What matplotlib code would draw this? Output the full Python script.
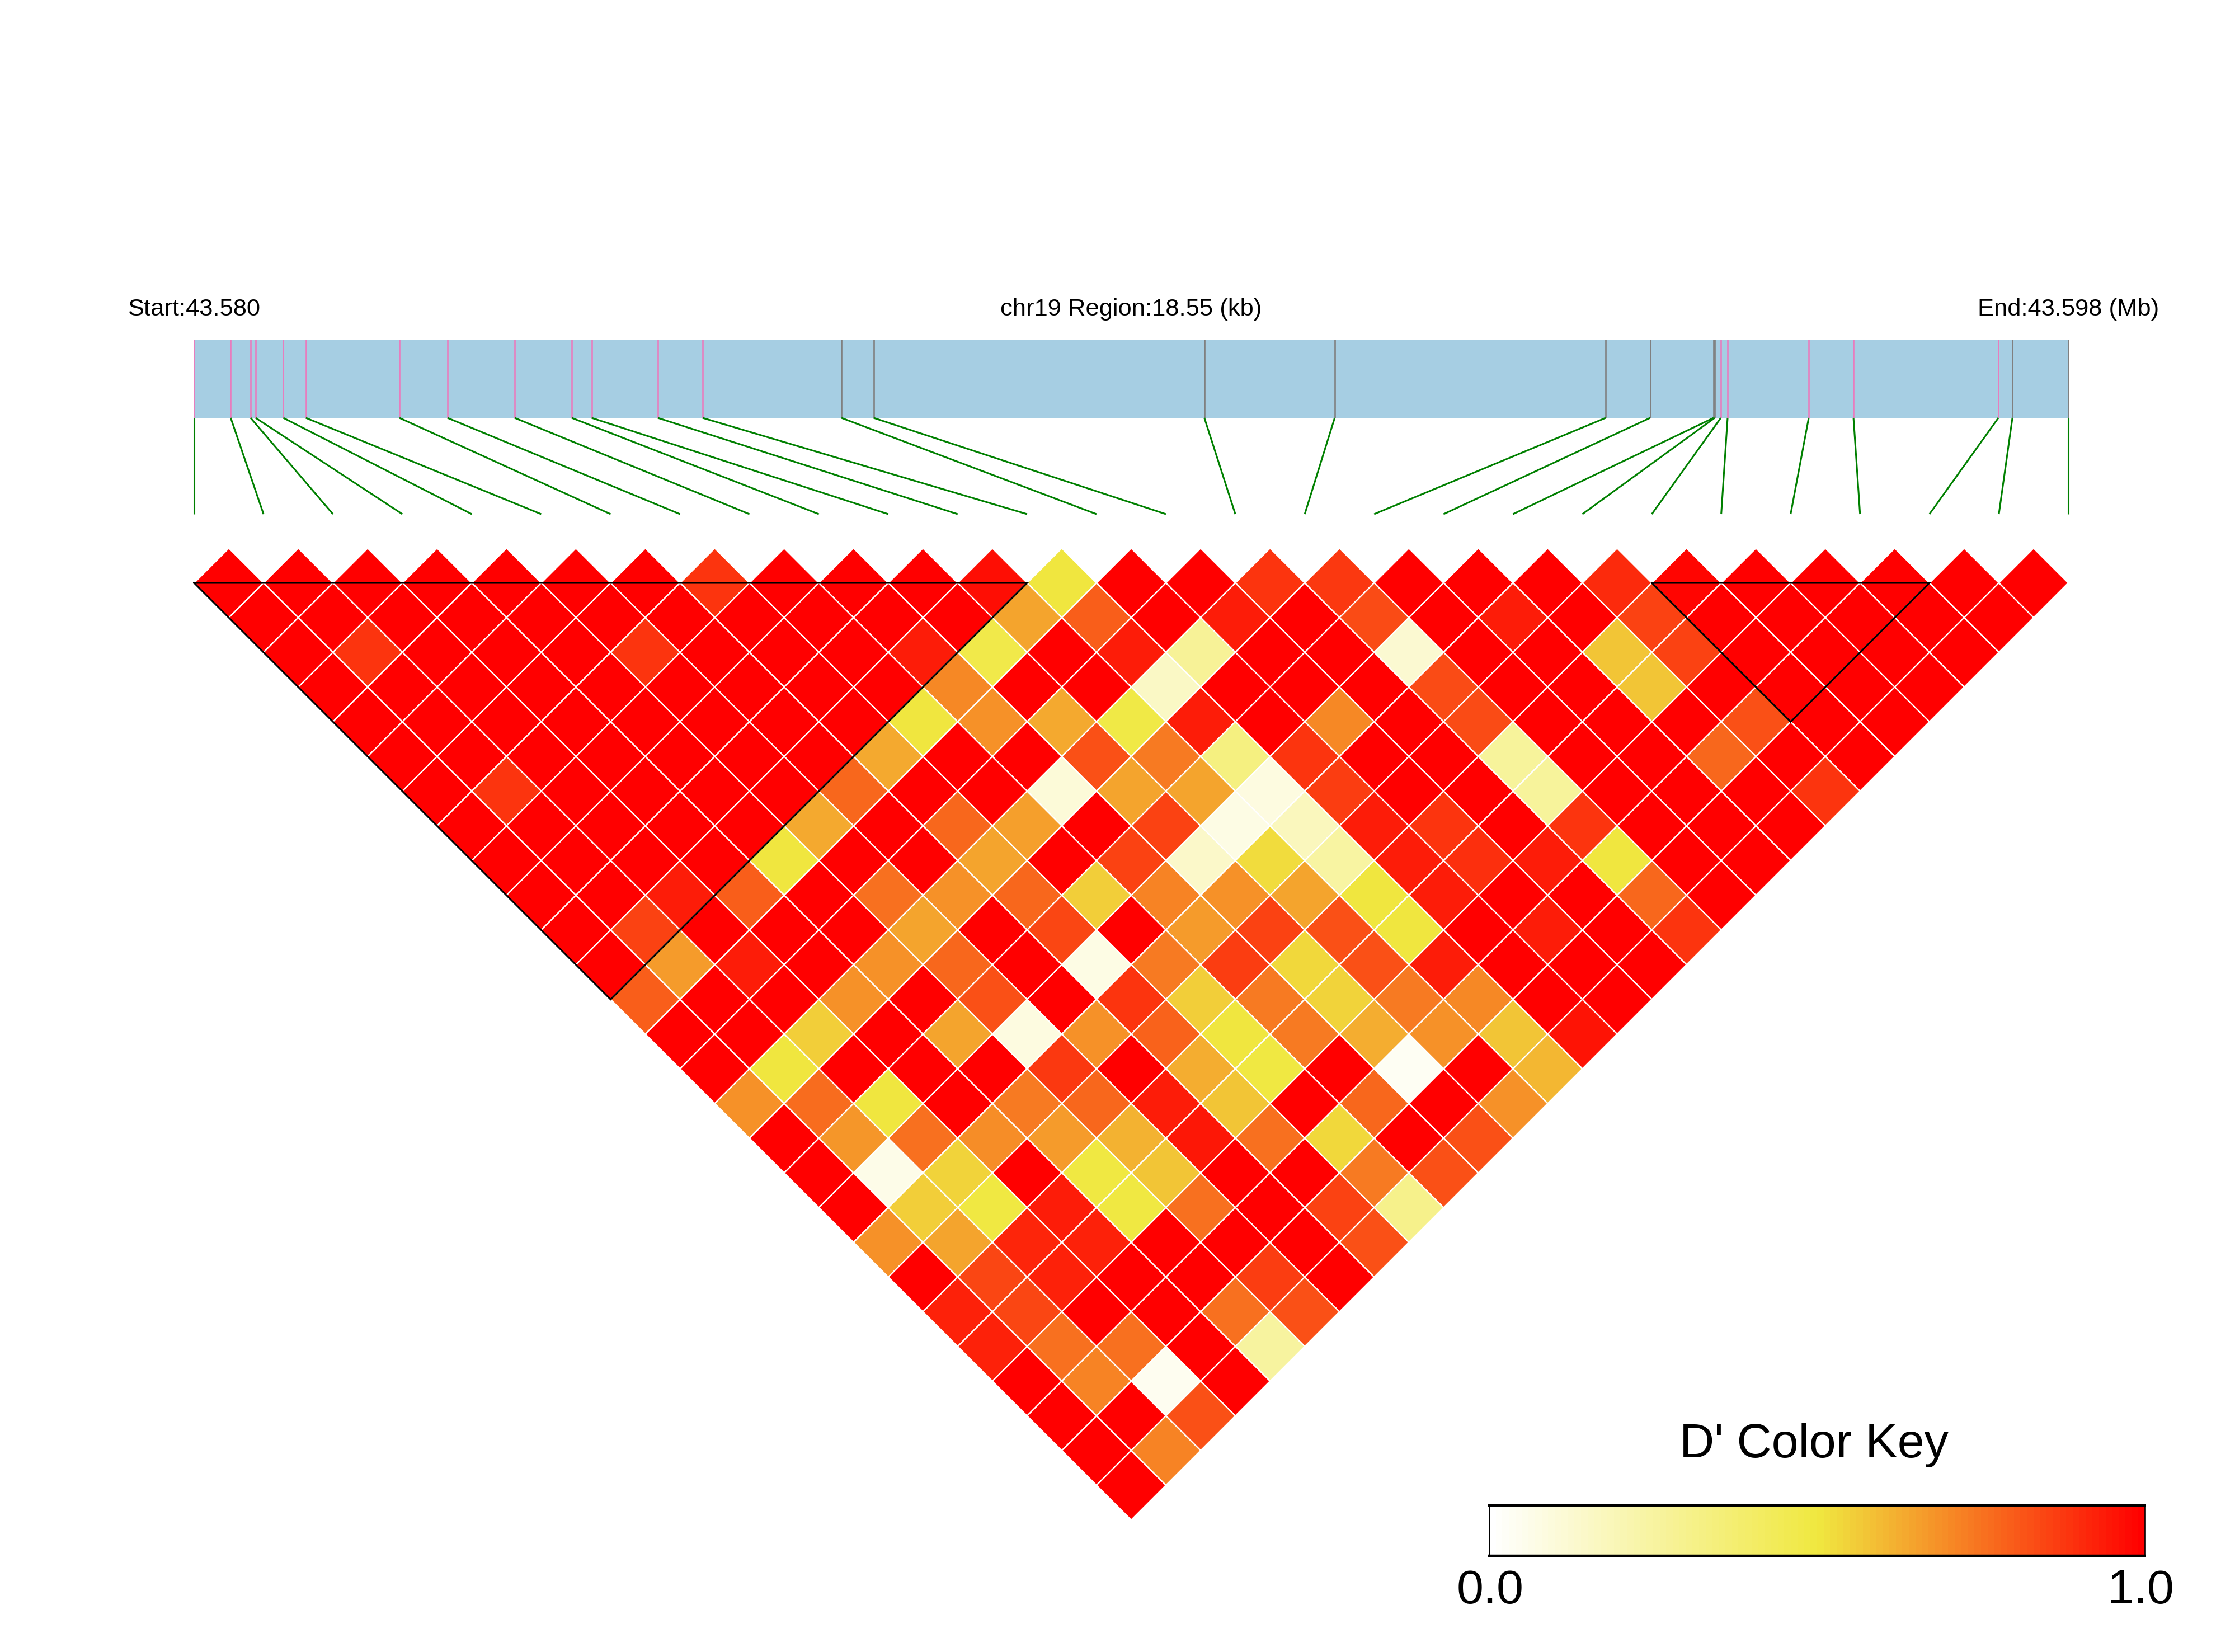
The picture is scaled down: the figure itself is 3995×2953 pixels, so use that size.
import numpy as np
import matplotlib
matplotlib.use('Agg')
import matplotlib.pyplot as plt
from matplotlib.collections import PolyCollection
from matplotlib.colors import LinearSegmentedColormap

R = 1.0

# estimated SNP positions along the region, in kb
snp_kb = [0, 0.362, 0.559, 0.609, 0.883, 1.106, 2.032, 2.508, 3.173, 3.738, 3.935, 4.590, 5.033, 6.407,
          6.726, 9.999, 11.289, 13.971, 14.411, 15.039, 15.050, 15.111, 15.178, 15.981, 16.424, 17.858, 17.997, 18.55]
region_kb = 18.55
snp_kind = ['p'] * 13 + ['g'] * 8 + ['p'] * 5 + ['g'] * 2  # pink or grey tick on the bar

dprime = [
    [R, R, R, R, R, R, R, .88, R, R, R, .96, .5, R, R, .88, .87, R, R, R, .9, .98, .99, .99, R, R, R],
    [R, R, R, R, R, R, R, R, R, R, R, .64, .79, R, .93, R, .83, R, .93, R, .85, R, R, R, R, R],
    [R, .88, R, R, R, .88, R, R, R, .93, .47, R, .93, .27, R, R, .12, R, R, .58, .85, R, R, R, R],
    [R, R, R, R, R, R, R, R, R, .70, R, R, .15, R, R, R, .83, R, R, .58, R, R, R, R],
    [R, R, R, R, R, R, R, R, .5, .68, .63, .48, .93, R, .70, R, .83, R, R, R, .82, R, R],
    [R, R, R, R, R, R, R, .63, R, R, .82, .73, .33, .88, R, R, .26, R, R, .77, R, R],
    [R, .88, R, R, R, R, .77, R, R, .1, .64, .64, .08, .86, R, R, .26, R, R, R, .88],
    [R, R, R, R, R, .63, R, .77, .65, R, .85, .07, .17, .93, .88, R, .88, R, R, R],
    [R, R, R, R, .5, R, R, .64, R, .85, .14, .52, .24, .93, .89, .93, .5, R, R],
    [R, R, .93, .79, R, .75, .68, .77, .55, .71, .68, .64, .5, .93, R, R, .77, R],
    [R, .85, R, R, R, .64, R, .84, R, .66, .85, .82, .5, R, .93, R, .88],
    [R, .66, .93, R, .68, .77, R, .07, .73, .86, .53, .82, .93, R, R, R],
    [.79, R, R, .68, R, .82, R, .88, .55, .73, .54, .73, .7, R, R],
    [R, R, .55, R, .64, .08, .68, .78, .5, .73, .62, .68, .58, .95],
    [R, .5, R, R, R, .87, R, .62, .49, R, .03, R, .6],
    [.68, .76, .5, R, .73, .77, .93, .58, R, .77, R, .68],
    [R, .67, .75, .69, .66, .61, .94, .75, .53, R, .82],
    [R, .06, .54, R, .49, .58, R, R, .73, .82],
    [R, .55, .49, .93, .49, .75, R, .85, .3],
    [.68, .64, .91, .92, R, R, R, .82],
    [R, .84, .92, R, R, .86, R],
    [.92, .84, R, R, .75, .82],
    [.92, .75, .75, R, .25],
    [R, .71, .04, R],
    [R, R, .82],
    [R, .71],
    [R],
]

blocks = [(0, 12), (21, 25)]  # first and last SNP of each LD block

WIDTH, HEIGHT = 3995, 2953
X0, X1 = 347, 3697
STEP = (X1 - X0) / (len(snp_kb) - 1)
Y_TRI = 1042
BAR_TOP, BAR_BOT, LINK_BOT = 608, 747, 919

plt.rcParams['font.family'] = ['Liberation Sans', 'DejaVu Sans']

cmap = LinearSegmentedColormap.from_list('dprime', [(0, '#FFFFFF'), (.5, '#F0E840'), (1, '#FF0000')], N=100)


def vertex(i, j):  # corner of the triangle grid between SNP i and SNP j
    return X0 + (i + j) / 2 * STEP, Y_TRI + (j - i) / 2 * STEP


fig = plt.figure(figsize=(WIDTH / 100, HEIGHT / 100), dpi=100)
ax = fig.add_axes([0, 0, 1, 1])
ax.set_xlim(0, WIDTH)
ax.set_ylim(HEIGHT, 0)
ax.axis('off')

# region bar, with ticks at the SNP positions
ax.fill_between([X0, X1], BAR_TOP, BAR_BOT, color='#A6CEE3', lw=0)
bar_x = [X0 + kb / region_kb * (X1 - X0) for kb in snp_kb]
tick_colors = ['#E87DBE' if k == 'p' else '#808080' for k in snp_kind]
ax.vlines(bar_x, BAR_TOP - 1, BAR_BOT, colors=tick_colors, lw=1.9)

# links from the bar down to the heatmap
for n, x in enumerate(bar_x):
    ax.plot([x, X0 + n * STEP], [BAR_BOT, LINK_BOT], color='#008000', lw=2.2, solid_capstyle='butt')

# heatmap
polys = []
vals = []
for d, row in enumerate(dprime):
    k = d + 1
    for i, v in enumerate(row):
        j = i + k
        cx, cy = vertex(i, j)
        cy = cy - STEP / 2
        polys.append([(cx - STEP / 2, cy), (cx, cy - STEP / 2), (cx + STEP / 2, cy), (cx, cy + STEP / 2)])
        vals.append(v)
cells = PolyCollection(polys, array=np.array(vals), cmap=cmap, edgecolors='white', linewidths=1.7)
cells.set_clim(0, 1)
ax.add_collection(cells)

# LD blocks
for a, b in blocks:
    xs, ys = zip(vertex(a, a), vertex(b, b), vertex(a, b), vertex(a, a))
    ax.plot(xs, ys, color='black', lw=2.2, solid_joinstyle='miter')

ax.text(X0, 564, 'Start:43.580', ha='center', va='baseline', fontsize=31.3)
ax.text((X0 + X1) / 2, 564, 'chr19 Region:18.55 (kb)', ha='center', va='baseline', fontsize=31.3)
ax.text(X1, 564, 'End:43.598 (Mb)', ha='center', va='baseline', fontsize=31.3)

# colour key
key_x = np.linspace(2662, 3834, 101)
key = np.linspace(0, 1, 100).reshape(1, -1)
ax.pcolormesh(key_x, [2691, 2781], key, cmap=cmap, vmin=0, vmax=1, antialiased=True, lw=0)
ax.hlines([2691, 2781], 2660, 3836, color='black', lw=3.2)
ax.vlines([2662, 3834], 2691, 2781, color='black', lw=1.9)
ax.text(3242, 2605, "D' Color Key", ha='center', va='baseline', fontsize=62)
ax.text(2664, 2866, '0.0', ha='center', va='baseline', fontsize=62)
ax.text(3826, 2866, '1.0', ha='center', va='baseline', fontsize=62)

fig.savefig('out.png', dpi=100, facecolor='white')
